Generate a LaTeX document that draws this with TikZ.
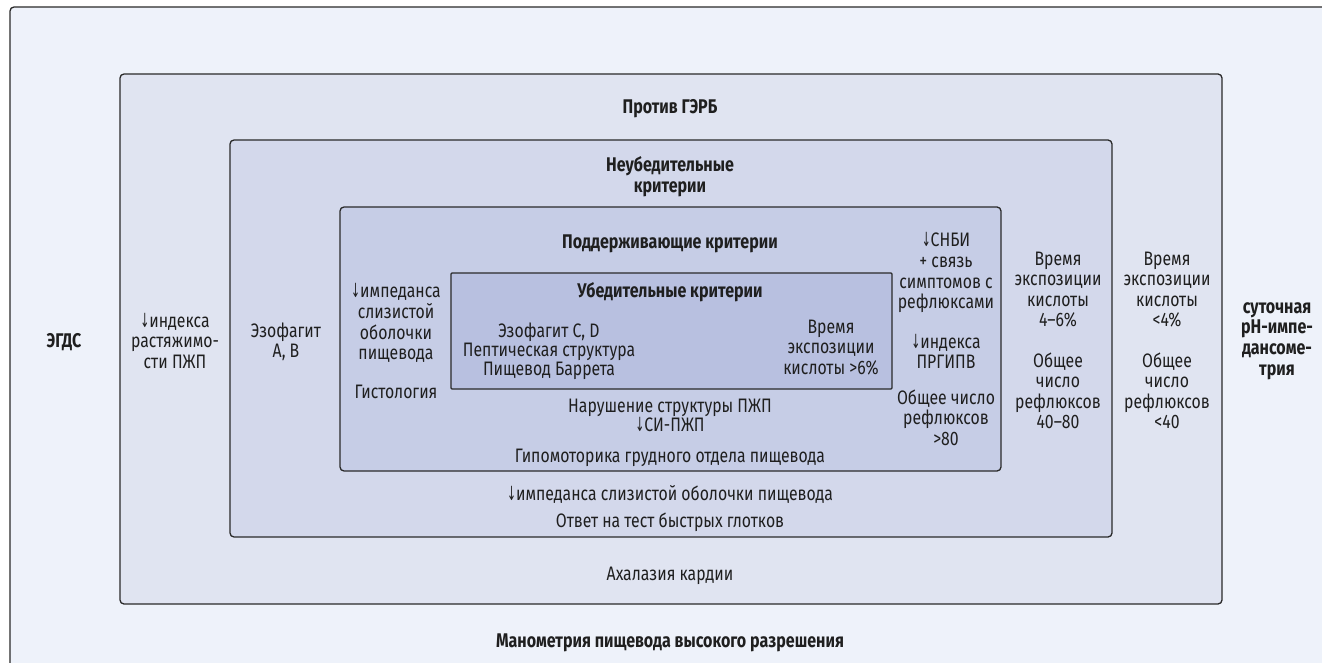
\documentclass[tikz,border=0pt]{standalone}
\usepackage{fontspec}
\setmainfont{Fira Sans}[FakeStretch=0.81]
\newfontfamily\arrfont{DejaVu Sans}[FakeStretch=0.55]
\newcommand{\dn}{{\arrfont\char"2193}}
\newcommand{\ml}[1]{\begin{tabular}[t]{@{}c@{}}#1\end{tabular}}
\definecolor{c1}{HTML}{EEF2FA}
\definecolor{c2}{HTML}{E0E4F1}
\definecolor{c3}{HTML}{D3D8EB}
\definecolor{c4}{HTML}{C6CDE6}
\definecolor{c5}{HTML}{B8C0E0}
\definecolor{ln}{HTML}{2A2A2A}
\tikzset{
  x=1pt,y=-1pt,
  box/.style={draw=ln,line width=1.3pt,rounded corners=4pt},
  txt/.style={anchor=base,inner sep=0pt,text=black!88,font=\fontsize{19.5}{20.5}\selectfont},
  btxt/.style={txt,font=\fontsize{19.8}{20.8}\selectfont\bfseries}
}
\begin{document}
\begin{tikzpicture}
\useasboundingbox (0,0) rectangle (1322,663);
\fill[white] (0,0) rectangle (1322,663);
\begin{scope}
\clip (0,0) rectangle (1322,663);
\draw[box,fill=c1] (10,7) rectangle (1340,690);
\end{scope}
\draw[box,fill=c2] (120,74) rectangle (1222,604);
\draw[box,fill=c3] (230,140) rectangle (1112,537);
\draw[box,fill=c4] (340,207) rectangle (1001,471);
\draw[box,fill=c5,rounded corners=1pt] (451,273) rectangle (892,389);

% outer
\node[btxt] (egds) at (64,347) {ЭГДС};
\node[btxt] (ph) at (1277,313) {\ml{суточная\\рН-импе-\\дансоме-\\трия}};
\node[btxt] (mano) at (670,647) {Манометрия пищевода высокого разрешения};
% box2
\node[btxt] (protiv) at (670,114) {Против ГЭРБ};
\node[txt] (ind) at (175,327) {\ml{\dn индекса\\растяжимо-\\сти ПЖП}};
\node[txt] (ahal) at (670,580) {Ахалазия кардии};
\node[txt] (r2a) at (1167,265) {\ml{Время\\экспозиции\\кислоты\\<4\%}};
\node[txt] (r2b) at (1167,367) {\ml{Общее\\число\\рефлюксов\\<40}};
% box3
\node[btxt] (neub) at (670,172) {\ml{Неубедительные\\критерии}};
\node[txt] (ezAB) at (286,337) {\ml{Эзофагит\\А, В}};
\node[txt] (imp3) at (670,500) {\dn импеданса слизистой оболочки пищевода};
\node[txt] (otv) at (670,527) {Ответ на тест быстрых глотков};
\node[txt] (r3a) at (1058,265) {\ml{Время\\экспозиции\\кислоты\\4–6\%}};
\node[txt] (r3b) at (1058,367) {\ml{Общее\\число\\рефлюксов\\40–80}};
% box4
\node[btxt] (podd) at (670,248) {Поддерживающие критерии};
\node[txt] (imp4) at (396,297) {\ml{\dn импеданса\\слизистой\\оболочки\\пищевода}};
\node[txt] (hist) at (396,398) {Гистология};
\node[txt] (nar) at (670,412) {\ml{Нарушение структуры ПЖП\\[-1.5pt]\dn СИ-ПЖП}};
\node[txt] (gipo) at (670,462) {Гипомоторика грудного отдела пищевода};
\node[txt] (r4a) at (946,247) {\ml{\dn СНБИ\\+ связь\\симптомов с\\рефлюксами}};
\node[txt] (r4b) at (946,348) {\ml{\dn индекса\\ПРГИПВ}};
\node[txt] (r4c) at (946,404) {\ml{Общее число\\рефлюксов\\>80}};
% box5
\node[btxt] (ub) at (670,297) {Убедительные критерии};
\node[txt] (ezCD) at (549,337) {\ml{Эзофагит C, D\\[-1.5pt]Пептическая структура\\[-1.5pt]Пищевод Баррета}};
\node[txt] (time6) at (831,333) {\ml{Время\\экспозиции\\кислоты >6\%}};
\end{tikzpicture}
\end{document}
